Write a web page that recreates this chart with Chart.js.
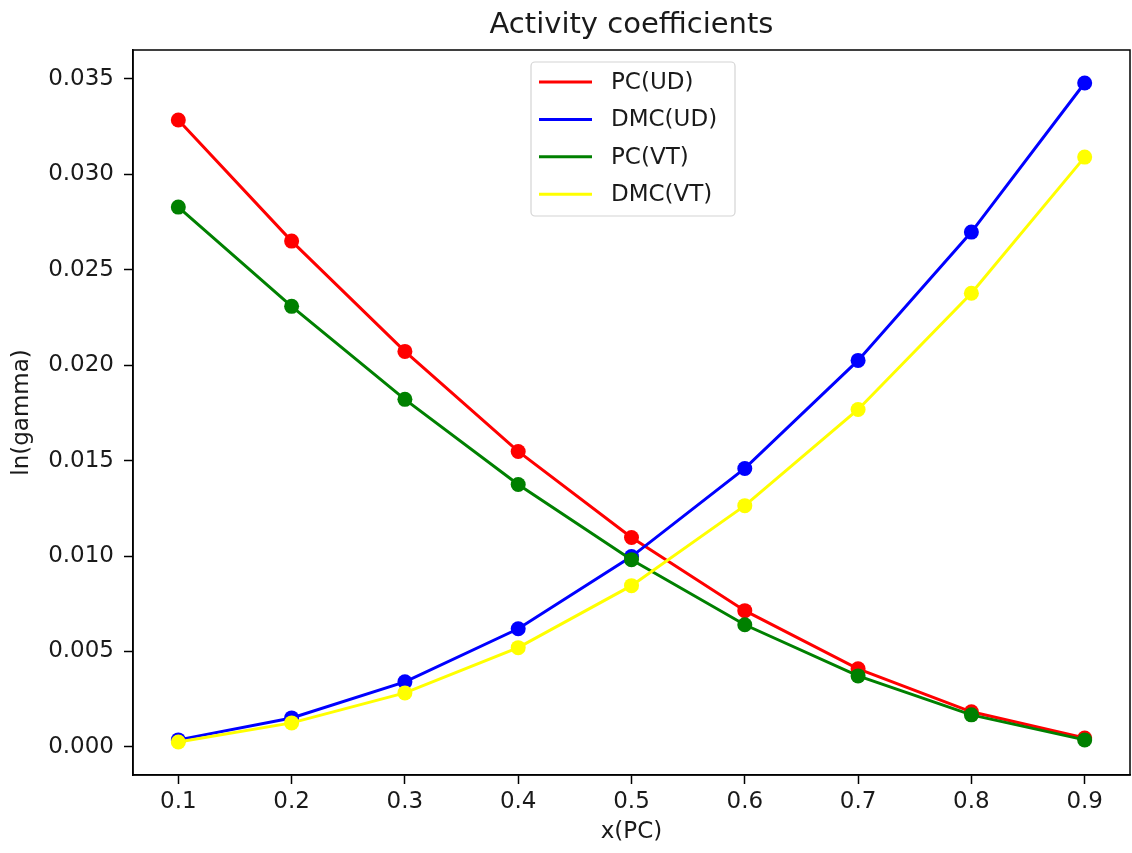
<!DOCTYPE html>
<html>
<head>
<meta charset="utf-8">
<script src="https://cdn.jsdelivr.net/npm/chart.js@4/dist/chart.umd.min.js"></script>
<style>
  html, body { margin: 0; padding: 0; background: #fff; }
  #wrap { width: 1132px; height: 853px; }
</style>
</head>
<body>
<div id="wrap"><canvas id="myChart" width="1132" height="853"></canvas></div>
<script>
// data
const xValues = [0.1, 0.2, 0.3, 0.4, 0.5, 0.6, 0.7, 0.8, 0.9];
const pcUD  = [0.03284, 0.02650, 0.02072, 0.01548, 0.01097, 0.00714, 0.00409, 0.00184, 0.00047];
const dmcUD = [0.00037, 0.00152, 0.00341, 0.00619, 0.00997, 0.01459, 0.02025, 0.02697, 0.03478];
const pcVT  = [0.02828, 0.02308, 0.01821, 0.01375, 0.00981, 0.00640, 0.00372, 0.00168, 0.00037];
const dmcVT = [0.00026, 0.00126, 0.00283, 0.00520, 0.00845, 0.01264, 0.01768, 0.02377, 0.03090];
const xTicks = [0.1, 0.2, 0.3, 0.4, 0.5, 0.6, 0.7, 0.8, 0.9];
const yTicks = [0, 0.005, 0.010, 0.015, 0.020, 0.025, 0.030, 0.035];
const chartTitle = 'Activity coefficients';

const FONT = 'DejaVu Sans';
const toPts = ys => xValues.map((x, i) => ({x: x, y: ys[i]}));

function series(label, ys, color, order) {
    return {
        label: label,
        data: toPts(ys),
        borderColor: color,
        backgroundColor: color,
        borderWidth: 3,
        pointRadius: 7.5,
        pointBorderWidth: 0,
        pointHoverRadius: 7.5,
        tension: 0,
        order: order
    };
}

// frame on top/right, title over the plot area, legend in the plot
const framePlugin = {
    id: 'frame',
    afterDraw(chart) {
        const {ctx, chartArea: a} = chart;
        ctx.save();
        ctx.strokeStyle = '#000';
        ctx.lineWidth = 1.5;
        ctx.strokeRect(a.left, a.top, a.right - a.left, a.bottom - a.top);

        // title, centred on the axes like matplotlib
        ctx.fillStyle = '#1a1a1a';
        ctx.font = '29px "' + FONT + '"';
        ctx.textAlign = 'center';
        ctx.textBaseline = 'middle';
        ctx.fillText(chartTitle, (a.left + a.right) / 2, 25);

        // legend box
        const bx = 531, by = 62, bw = 204, bh = 154;
        ctx.globalAlpha = 0.8;
        ctx.fillStyle = '#fff';
        ctx.beginPath();
        ctx.roundRect(bx, by, bw, bh, 4);
        ctx.fill();
        ctx.globalAlpha = 1;
        ctx.strokeStyle = '#d4d4d4';
        ctx.lineWidth = 1.2;
        ctx.stroke();

        ctx.font = '23px "' + FONT + '"';
        ctx.textBaseline = 'middle';
        ctx.textAlign = 'left';
        chart.data.datasets.forEach((ds, i) => {
            const y = 82 + i * 37.4;
            ctx.strokeStyle = ds.borderColor;
            ctx.lineWidth = 3;
            ctx.beginPath();
            ctx.moveTo(539, y);
            ctx.lineTo(592, y);
            ctx.stroke();
            ctx.fillStyle = '#1a1a1a';
            ctx.fillText(ds.label, 611, y + 1);
        });
        ctx.restore();
    }
};

new Chart(document.getElementById('myChart'), {
    type: 'line',
    data: {
        datasets: [
            series('PC(UD)', pcUD, '#ff0000', 4),
            series('DMC(UD)', dmcUD, '#0000ff', 3),
            series('PC(VT)', pcVT, '#008000', 2),
            series('DMC(VT)', dmcVT, '#ffff00', 1)
        ]
    },
    options: {
        responsive: false,
        animation: false,
        events: [],
        layout: { autoPadding: false, padding: { left: 0, right: 2, top: 50, bottom: 0 } },
        plugins: {
            legend: { display: false },
            tooltip: { enabled: false },
            title: { display: false }
        },
        scales: {
            x: {
                type: 'linear',
                min: 0.06,
                max: 0.94,
                afterBuildTicks: s => { s.ticks = xTicks.map(v => ({value: v})); },
                afterFit: s => { s.height = 78; s.paddingLeft = 0; s.paddingRight = 0; },
                ticks: {
                    color: '#1a1a1a',
                    font: { family: FONT, size: 23 },
                    padding: 4,
                    maxRotation: 0,
                    autoSkip: false,
                    callback: v => v.toFixed(1)
                },
                grid: { drawOnChartArea: false, drawTicks: true, tickLength: 9, tickWidth: 1.5, tickColor: '#000' },
                border: { display: true, color: '#000', width: 1.5 },
                title: {
                    display: true,
                    text: 'x(PC)',
                    color: '#1a1a1a',
                    font: { family: FONT, size: 23 },
                    padding: { top: 0, bottom: 7 }
                }
            },
            y: {
                type: 'linear',
                min: -0.00147,
                max: 0.03651,
                afterBuildTicks: s => { s.ticks = yTicks.map(v => ({value: v})); },
                afterFit: s => { s.width = 133; s.paddingTop = 0; s.paddingBottom = 0; },
                ticks: {
                    color: '#1a1a1a',
                    font: { family: FONT, size: 23 },
                    padding: 10,
                    autoSkip: false,
                    callback: v => v.toFixed(3)
                },
                grid: { drawOnChartArea: false, drawTicks: true, tickLength: 9, tickWidth: 1.5, tickColor: '#000' },
                border: { display: true, color: '#000', width: 1.5 },
                title: {
                    display: true,
                    text: 'ln(gamma)',
                    color: '#1a1a1a',
                    font: { family: FONT, size: 23 },
                    padding: { top: 8, bottom: 0 }
                }
            }
        }
    },
    plugins: [framePlugin]
});
</script>
</body>
</html>
